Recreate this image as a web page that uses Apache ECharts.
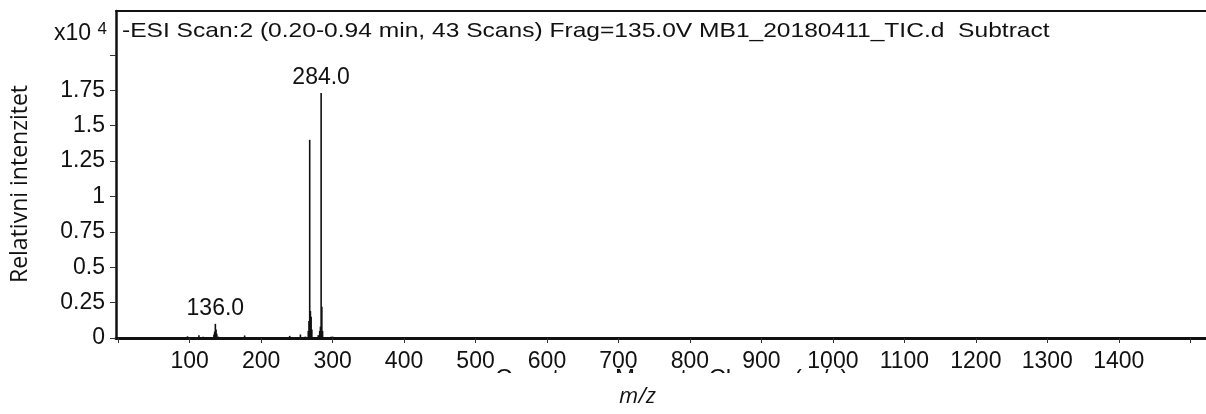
<!DOCTYPE html>
<html>
<head>
<meta charset="utf-8">
<script src="https://cdn.jsdelivr.net/npm/echarts@6/dist/echarts.min.js"></script>
<style>
  html, body { margin: 0; padding: 0; background: #fff; }
  #chart { width: 1206px; height: 414px; }
</style>
</head>
<body>
<div id="chart"></div>
<script>
// Stick spectrum: m/z of each ion and its abundance (x10^4 counts)
const mzValues = [97, 113, 119, 134, 135, 136, 137, 138, 140, 153, 177, 197, 240, 255, 262,
                  266, 267, 268, 269, 270, 271, 280, 282, 283, 284, 285, 286, 298, 300];
const intensities = [0.012, 0.02, 0.008, 0.025, 0.045, 0.10, 0.06, 0.03, 0.01, 0.006, 0.018, 0.005, 0.015, 0.025, 0.01,
                     0.05, 0.12, 1.40, 0.19, 0.15, 0.06, 0.02, 0.05, 0.08, 1.73, 0.22, 0.05, 0.008, 0.01];
// Peaks annotated with their m/z
const labeledPeaks = [136.0, 284.0];

// Axis ticks and labels
const xTickValues = [0, 100, 200, 300, 400, 500, 600, 700, 800, 900, 1000, 1100, 1200, 1300, 1400, 1500];
const xLabelValues = [100, 200, 300, 400, 500, 600, 700, 800, 900, 1000, 1100, 1200, 1300, 1400];
const yTickValues = [0, 0.25, 0.5, 0.75, 1, 1.25, 1.5, 1.75, 2];
const yLabelValues = [0, 0.25, 0.5, 0.75, 1, 1.25, 1.5, 1.75];

const titleText = '-ESI Scan:2 (0.20-0.94 min, 43 Scans) Frag=135.0V MB1_20180411_TIC.d  Subtract';
const yAxisTitle = 'Relativni intenzitet';
const xAxisTitle = 'm/z';
const instrumentAxisTitle = 'Counts vs. Mass-to-Charge (m/z)';

const FONT = '"Liberation Sans", Arial, sans-serif';
const HUMANIST = '"Open Sans", "DejaVu Sans", sans-serif';

const chart = echarts.init(document.getElementById('chart'), null, { renderer: 'canvas' });

const spectrumData = mzValues.map((mz, i) => [mz, intensities[i], labeledPeaks.includes(mz) ? 1 : 0]);

chart.setOption({
  animation: false,
  backgroundColor: '#fff',
  grid: { left: 116, right: 0, top: 11, bottom: 76, containLabel: false },
  xAxis: [{
    type: 'value',
    min: -3,
    max: 1522,
    splitLine: { show: false },
    axisLine: { show: true, onZero: false, lineStyle: { color: '#111', width: 3 } },
    axisTick: { show: true, customValues: xTickValues, length: 5, lineStyle: { color: '#333', width: 1 } },
    axisLabel: {
      customValues: xLabelValues, margin: 12, fontFamily: FONT, fontSize: 23, color: '#111',
      formatter: v => String(v)
    }
  }, {
    type: 'value',
    position: 'top',
    min: -3,
    max: 1522,
    splitLine: { show: false },
    axisLine: { show: true, onZero: false, lineStyle: { color: '#111', width: 2 } },
    axisTick: { show: false },
    axisLabel: { show: false }
  }],
  yAxis: {
    type: 'value',
    min: 0,
    max: 2.31,
    name: yAxisTitle,
    nameLocation: 'middle',
    nameRotate: 90,
    nameGap: 84,
    nameTextStyle: {
      fontFamily: HUMANIST, fontSize: 23, color: '#111',
      padding: [0, 19, 0, 0]
    },
    splitLine: { show: false },
    axisLine: { show: true, onZero: false, lineStyle: { color: '#111', width: 2.5 } },
    axisTick: { show: true, customValues: yTickValues, length: 6, lineStyle: { color: '#333', width: 1 } },
    axisLabel: {
      customValues: yLabelValues, margin: 11, fontFamily: FONT, fontSize: 23, color: '#111',
      formatter: v => String(v)
    }
  },
  graphic: [
    {
      // scan header
      type: 'text',
      left: 122,
      top: 21,
      scaleX: 1.17,
      style: { text: titleText, font: '21px ' + FONT, fill: '#111' }
    },
    {
      // exponent of the intensity axis
      type: 'text',
      right: 1206 - 107,
      top: 21,
      style: {
        text: '{a|x10 }{b|4}',
        rich: {
          a: { fontFamily: FONT, fontSize: 23, fill: '#111' },
          b: { fontFamily: FONT, fontSize: 17, fill: '#111', verticalAlign: 'top', padding: [0, 0, 8, 0] }
        }
      }
    },
    {
      // instrument-generated axis caption, mostly masked
      type: 'text',
      left: 495,
      top: 367,
      z: 1,
      style: { text: instrumentAxisTitle, font: '24px ' + FONT, fill: '#111' }
    },
    {
      type: 'rect',
      left: 470,
      top: 373,
      z: 2,
      shape: { width: 420, height: 15 },
      style: { fill: '#fff' }
    },
    {
      type: 'rect',
      left: 664,
      top: 386,
      z: 2,
      shape: { width: 226, height: 16 },
      style: { fill: '#fff' }
    },
    {
      // m/z axis title
      type: 'text',
      left: 619,
      top: 386,
      z: 3,
      style: {
        text: xAxisTitle, fontFamily: HUMANIST, fontStyle: 'italic', fontSize: 22, fill: '#111'
      }
    }
  ],
  series: [{
    type: 'custom',
    xAxisIndex: 0,
    yAxisIndex: 0,
    data: spectrumData,
    clip: true,
    renderItem(params, api) {
      const mz = api.value(0);
      const top = api.coord([mz, api.value(1)]);
      const base = api.coord([mz, 0]);
      const el = {
        type: 'line',
        shape: { x1: top[0], y1: top[1], x2: base[0], y2: base[1] },
        style: { stroke: '#111', lineWidth: 1.6 }
      };
      if (api.value(2)) {
        el.textContent = { style: { text: mz.toFixed(1), font: '23px ' + FONT, fill: '#111' } };
        el.textConfig = { position: 'top', distance: 3 };
      }
      return el;
    }
  }]
});
</script>
</body>
</html>
